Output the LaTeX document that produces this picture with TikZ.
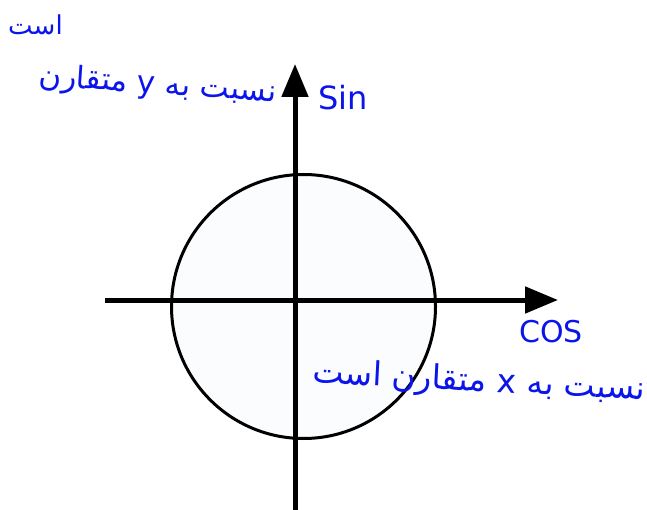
\documentclass[tikz,border=0pt]{standalone}
\usepackage{fontspec}
\TeXXeTstate=1
\newfontfamily\arabicfont[Script=Arabic]{DejaVu Sans}
\newfontfamily\latinhand{DejaVu Sans}
\usetikzlibrary{arrows.meta}
\definecolor{ink}{RGB}{10,20,235}
\definecolor{circfill}{RGB}{250,252,253}
\tikzset{
  axis/.style={line width=5pt,-{Triangle[length=33pt,width=26pt]}},
  ring/.style={draw=black,line width=3pt,fill=circfill},
  note/.style={text=ink,inner sep=0pt},
  fa/.style={note,font=\arabicfont\fontsize{33}{35}\selectfont},
}
\begin{document}
\begin{tikzpicture}[x=1pt,y=-1pt]
\useasboundingbox (0,0) rectangle (647,510);
\coordinate (O) at (303.5,306.5);
\node[ring,circle,minimum size=264pt,inner sep=0pt] (c) at (O) {};
\coordinate (xl) at (105,300);
\coordinate (xr) at (558,300);
\coordinate (yb) at (295,510);
\coordinate (yt) at (295,64);
\draw[axis] (xl) -- (xr);
\draw[axis] (yb) -- (yt);
\node[note,font=\latinhand\fontsize{32}{32}\selectfont,anchor=base west] (sin) at (318,110) {Sin};
\node[note,font=\latinhand\fontsize{30}{30}\selectfont,anchor=base west] (cos) at (519,342) {COS};
\node[fa,font=\arabicfont\fontsize{31}{33}\selectfont,anchor=base east,rotate=-4] (ty) at (276,102) {\beginR نسبت به \beginL y\endL{} متقارن\endR};
\node[fa,font=\arabicfont\fontsize{26}{28}\selectfont,anchor=base west] (tya) at (8,35) {\beginR است\endR};
\node[fa,anchor=base east,rotate=-3] (tx) at (645,400) {\beginR نسبت به \beginL x\endL{} متقارن است\endR};
\end{tikzpicture}
\end{document}
